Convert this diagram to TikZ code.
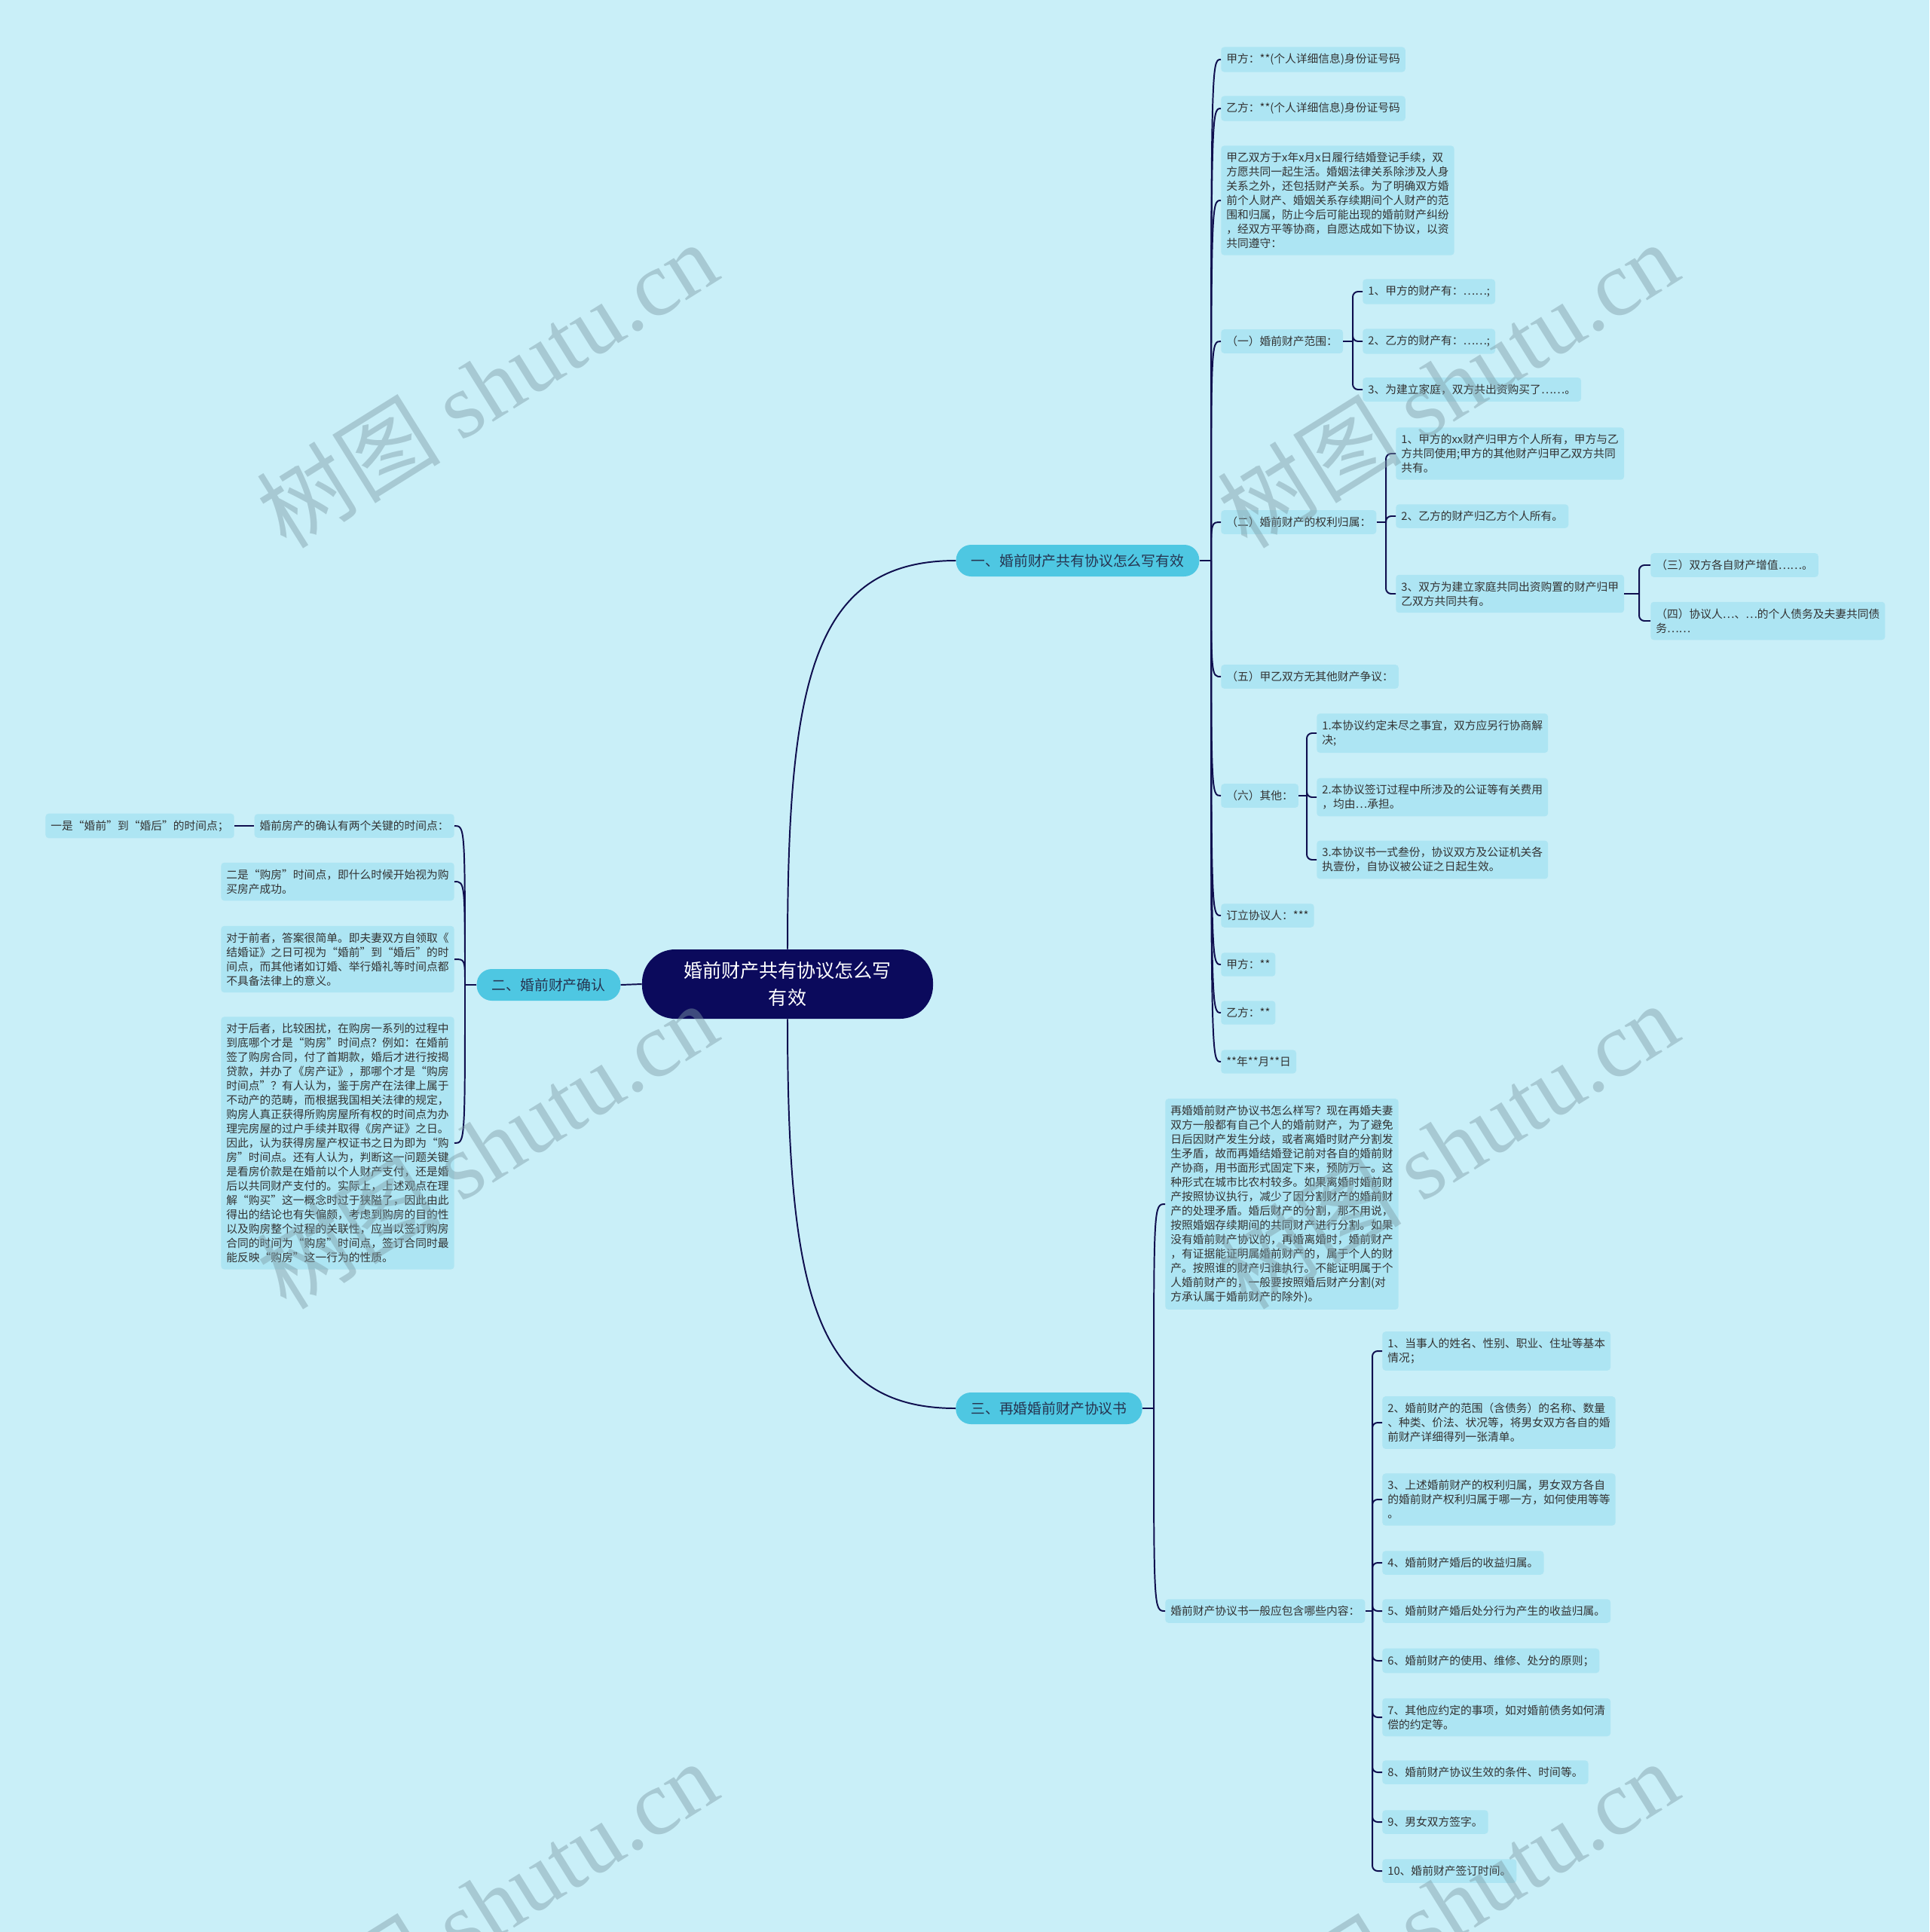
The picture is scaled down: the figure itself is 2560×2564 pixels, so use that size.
\documentclass[tikz,border=0pt]{standalone}
\usepackage{fontspec}
\setmainfont{Noto Sans CJK SC}
\newfontfamily\wmserif{Liberation Serif}
\definecolor{bgcol}{HTML}{C9EFF8}
\definecolor{leafcol}{HTML}{ADE5F3}
\definecolor{branchcol}{HTML}{4EC7E2}
\definecolor{rootcol}{HTML}{0B0A5C}
\definecolor{linecol}{HTML}{0F0F4F}
\definecolor{txtcol}{HTML}{333333}
\definecolor{brtxt}{HTML}{263450}
\definecolor{wmcol}{HTML}{7E9CA6}

\begin{document}
\begin{tikzpicture}[x=0.025cm,y=-0.025cm,
 root/.style={fill=rootcol,text=white,rounded corners=1.1cm,minimum width=9.65cm,minimum height=2.3cm,align=center,font=\fontsize{17.8}{25}\selectfont},
 branch/.style={fill=branchcol,text=brtxt,rounded corners=0.5cm,minimum height=1.05cm,inner xsep=0.5cm,font=\fontsize{13.4}{16}\selectfont},
 leaf/.style={fill=leafcol,text=txtcol,rounded corners=3pt,inner xsep=5pt,inner ysep=6.3pt,align=left,font=\fontsize{10.5}{13.5}\selectfont},
 link/.style={draw=linecol,line width=1.4pt},
 elbow/.style={draw=linecol,line width=1.4pt,rounded corners=5pt},
 wmark/.style={text=wmcol,opacity=0.45,rotate=32,font=\fontsize{87}{87}\selectfont}]
\useasboundingbox (0,0) rectangle (2560,2564);
\fill[bgcol] (0,0) rectangle (2560,2564);

% centre and main branches
\node[root] (root) at (1045,1306) {婚前财产共有协议怎么写\\有效};
\node[branch] (b1) at (1430,744) {一、婚前财产共有协议怎么写有效};
\node[branch] (b2) at (728,1307) {二、婚前财产确认};
\node[branch] (b3) at (1392,1869) {三、再婚婚前财产协议书};

% branch one
\node[leaf,anchor=west] (a1) at (1620,79) {甲方：**(个人详细信息)身份证号码};
\node[leaf,anchor=west] (a2) at (1620,144) {乙方：**(个人详细信息)身份证号码};
\node[leaf,anchor=west] (a3) at (1620,266) {甲乙双方于x年x月x日履行结婚登记手续，双\\方愿共同一起生活。婚姻法律关系除涉及人身\\关系之外，还包括财产关系。为了明确双方婚\\前个人财产、婚姻关系存续期间个人财产的范\\围和归属，防止今后可能出现的婚前财产纠纷\\，经双方平等协商，自愿达成如下协议，以资\\共同遵守：};
\node[leaf,anchor=west] (a4) at (1620,453) {（一）婚前财产范围：};
\node[leaf,anchor=west] (a41) at (1808,387) {1、甲方的财产有：……;};
\node[leaf,anchor=west] (a42) at (1808,453) {2、乙方的财产有：……;};
\node[leaf,anchor=west] (a43) at (1808,517) {3、为建立家庭，双方共出资购买了……。};
\node[leaf,anchor=west] (a5) at (1620,693) {（二）婚前财产的权利归属：};
\node[leaf,anchor=west] (a51) at (1852,602) {1、甲方的xx财产归甲方个人所有，甲方与乙\\方共同使用;甲方的其他财产归甲乙双方共同\\共有。};
\node[leaf,anchor=west] (a52) at (1852,685) {2、乙方的财产归乙方个人所有。};
\node[leaf,anchor=west] (a53) at (1852,788) {3、双方为建立家庭共同出资购置的财产归甲\\乙双方共同共有。};
\node[leaf,anchor=west] (a531) at (2190,750) {（三）双方各自财产增值……。};
\node[leaf,anchor=west] (a532) at (2190,824) {（四）协议人…、…的个人债务及夫妻共同债\\务……};
\node[leaf,anchor=west] (a6) at (1620,898) {（五）甲乙双方无其他财产争议：};
\node[leaf,anchor=west] (a7) at (1620,1056) {（六）其他：};
\node[leaf,anchor=west] (a71) at (1747,973) {1.本协议约定未尽之事宜，双方应另行协商解\\决;};
\node[leaf,anchor=west] (a72) at (1747,1058) {2.本协议签订过程中所涉及的公证等有关费用\\，均由…承担。};
\node[leaf,anchor=west] (a73) at (1747,1141) {3.本协议书一式叁份，协议双方及公证机关各\\执壹份，自协议被公证之日起生效。};
\node[leaf,anchor=west] (a8) at (1620,1215) {订立协议人：***};
\node[leaf,anchor=west] (a9) at (1620,1280) {甲方：**};
\node[leaf,anchor=west] (a10) at (1620,1344) {乙方：**};
\node[leaf,anchor=west] (a11) at (1620,1409) {**年**月**日};

% branch two
\node[leaf,anchor=east] (c1) at (603,1096) {婚前房产的确认有两个关键的时间点：};
\node[leaf,anchor=east] (c11) at (311,1096) {一是“婚前”到“婚后”的时间点；};
\node[leaf,anchor=east] (c2) at (603,1170) {二是“购房”时间点，即什么时候开始视为购\\买房产成功。};
\node[leaf,anchor=east] (c3) at (603,1273) {对于前者，答案很简单。即夫妻双方自领取《\\结婚证》之日可视为“婚前”到“婚后”的时\\间点，而其他诸如订婚、举行婚礼等时间点都\\不具备法律上的意义。};
\node[leaf,anchor=east] (c4) at (603,1517) {对于后者，比较困扰，在购房一系列的过程中\\到底哪个才是“购房”时间点？例如：在婚前\\签了购房合同，付了首期款，婚后才进行按揭\\贷款，并办了《房产证》，那哪个才是“购房\\时间点”？有人认为，鉴于房产在法律上属于\\不动产的范畴，而根据我国相关法律的规定，\\购房人真正获得所购房屋所有权的时间点为办\\理完房屋的过户手续并取得《房产证》之日。\\因此，认为获得房屋产权证书之日为即为“购\\房”时间点。还有人认为，判断这一问题关键\\是看房价款是在婚前以个人财产支付，还是婚\\后以共同财产支付的。实际上，上述观点在理\\解“购买”这一概念时过于狭隘了，因此由此\\得出的结论也有失偏颇，考虑到购房的目的性\\以及购房整个过程的关联性，应当以签订购房\\合同的时间为“购房”时间点，签订合同时最\\能反映“购房”这一行为的性质。};

% branch three
\node[leaf,anchor=west] (d1) at (1546,1598) {再婚婚前财产协议书怎么样写？现在再婚夫妻\\双方一般都有自己个人的婚前财产，为了避免\\日后因财产发生分歧，或者离婚时财产分割发\\生矛盾，故而再婚结婚登记前对各自的婚前财\\产协商，用书面形式固定下来，预防万一。这\\种形式在城市比农村较多。如果离婚时婚前财\\产按照协议执行，减少了因分割财产的婚前财\\产的处理矛盾。婚后财产的分割，那不用说，\\按照婚姻存续期间的共同财产进行分割。如果\\没有婚前财产协议的，再婚离婚时，婚前财产\\，有证据能证明属婚前财产的，属于个人的财\\产。按照谁的财产归谁执行。不能证明属于个\\人婚前财产的，一般要按照婚后财产分割(对\\方承认属于婚前财产的除外)。};
\node[leaf,anchor=west] (d2) at (1546,2138) {婚前财产协议书一般应包含哪些内容：};
\node[leaf,anchor=west] (d21) at (1834,1793) {1、当事人的姓名、性别、职业、住址等基本\\情况；};
\node[leaf,anchor=west] (d22) at (1834,1888) {2、婚前财产的范围（含债务）的名称、数量\\、种类、价法、状况等，将男女双方各自的婚\\前财产详细得列一张清单。};
\node[leaf,anchor=west] (d23) at (1834,1990) {3、上述婚前财产的权利归属，男女双方各自\\的婚前财产权利归属于哪一方，如何使用等等\\。};
\node[leaf,anchor=west] (d24) at (1834,2074) {4、婚前财产婚后的收益归属。};
\node[leaf,anchor=west] (d25) at (1834,2138) {5、婚前财产婚后处分行为产生的收益归属。};
\node[leaf,anchor=west] (d26) at (1834,2204) {6、婚前财产的使用、维修、处分的原则；};
\node[leaf,anchor=west] (d27) at (1834,2279) {7、其他应约定的事项，如对婚前债务如何清\\偿的约定等。};
\node[leaf,anchor=west] (d28) at (1834,2352) {8、婚前财产协议生效的条件、时间等。};
\node[leaf,anchor=west] (d29) at (1834,2418) {9、男女双方签字。};
\node[leaf,anchor=west] (d210) at (1834,2483) {10、婚前财产签订时间。};

% main connectors
\draw[link] (root.north) .. controls (1045,900) and (1080,744) .. (b1.west);
\draw[link] (root.south) .. controls (1045,1713) and (1080,1869) .. (b3.west);
\draw[link] (root.west) -- (b2.east);

% spine of branch one
\coordinate (j1) at (1607,744);
\draw[link] (b1.east) -- (j1);
\draw[link] (j1) .. controls (j1 |- a1.west) .. (a1.west);
\draw[link] (j1) .. controls (j1 |- a2.west) .. (a2.west);
\draw[link] (j1) .. controls (j1 |- a3.west) .. (a3.west);
\draw[link] (j1) .. controls (j1 |- a4.west) .. (a4.west);
\draw[link] (j1) .. controls (j1 |- a5.west) .. (a5.west);
\draw[link] (j1) .. controls (j1 |- a6.west) .. (a6.west);
\draw[link] (j1) .. controls (j1 |- a7.west) .. (a7.west);
\draw[link] (j1) .. controls (j1 |- a8.west) .. (a8.west);
\draw[link] (j1) .. controls (j1 |- a9.west) .. (a9.west);
\draw[link] (j1) .. controls (j1 |- a10.west) .. (a10.west);
\draw[link] (j1) .. controls (j1 |- a11.west) .. (a11.west);

% brackets of branch one
\coordinate (k4) at (1795,453);
\draw[link] (a4.east) -- (k4);
\draw[elbow] (k4) |- (a41.west); \draw[elbow] (k4) |- (a42.west); \draw[elbow] (k4) |- (a43.west);
\coordinate (k5) at (1839,693);
\draw[link] (a5.east) -- (k5);
\draw[elbow] (k5) |- (a51.west); \draw[elbow] (k5) |- (a52.west); \draw[elbow] (k5) |- (a53.west);
\coordinate (k53) at (2175,788);
\draw[link] (a53.east) -- (k53);
\draw[elbow] (k53) |- (a531.west); \draw[elbow] (k53) |- (a532.west);
\coordinate (k7) at (1734,1056);
\draw[link] (a7.east) -- (k7);
\draw[elbow] (k7) |- (a71.west); \draw[elbow] (k7) |- (a72.west); \draw[elbow] (k7) |- (a73.west);

% branch two
\coordinate (j2) at (617,1307);
\draw[link] (b2.west) -- (j2);
\draw[link] (j2) .. controls (j2 |- c1.east) .. (c1.east);
\draw[link] (j2) .. controls (j2 |- c2.east) .. (c2.east);
\draw[link] (j2) .. controls (j2 |- c3.east) .. (c3.east);
\draw[link] (j2) .. controls (j2 |- c4.east) .. (c4.east);
\draw[link] (c1.west) -- (c11.east);

% branch three
\coordinate (j3) at (1531,1869);
\draw[link] (b3.east) -- (j3);
\draw[link] (j3) .. controls (j3 |- d1.west) .. (d1.west);
\draw[link] (j3) .. controls (j3 |- d2.west) .. (d2.west);
\coordinate (k2) at (1821,2138);
\draw[link] (d2.east) -- (k2);
\draw[elbow] (k2) |- (d21.west); \draw[elbow] (k2) |- (d22.west); \draw[elbow] (k2) |- (d23.west);
\draw[elbow] (k2) |- (d24.west); \draw[elbow] (k2) |- (d25.west); \draw[elbow] (k2) |- (d26.west);
\draw[elbow] (k2) |- (d27.west); \draw[elbow] (k2) |- (d28.west); \draw[elbow] (k2) |- (d29.west);
\draw[elbow] (k2) |- (d210.west);

% watermarks
\node[wmark] (w1) at (646,510) {树图 {\wmserif shutu.cn}};
\node[wmark] (w2) at (1921,510) {树图 {\wmserif shutu.cn}};
\node[wmark] (w3) at (646,1520) {树图 {\wmserif shutu.cn}};
\node[wmark] (w4) at (1921,1520) {树图 {\wmserif shutu.cn}};
\node[wmark] (w5) at (646,2526) {树图 {\wmserif shutu.cn}};
\node[wmark] (w6) at (1921,2526) {树图 {\wmserif shutu.cn}};
\end{tikzpicture}
\end{document}
